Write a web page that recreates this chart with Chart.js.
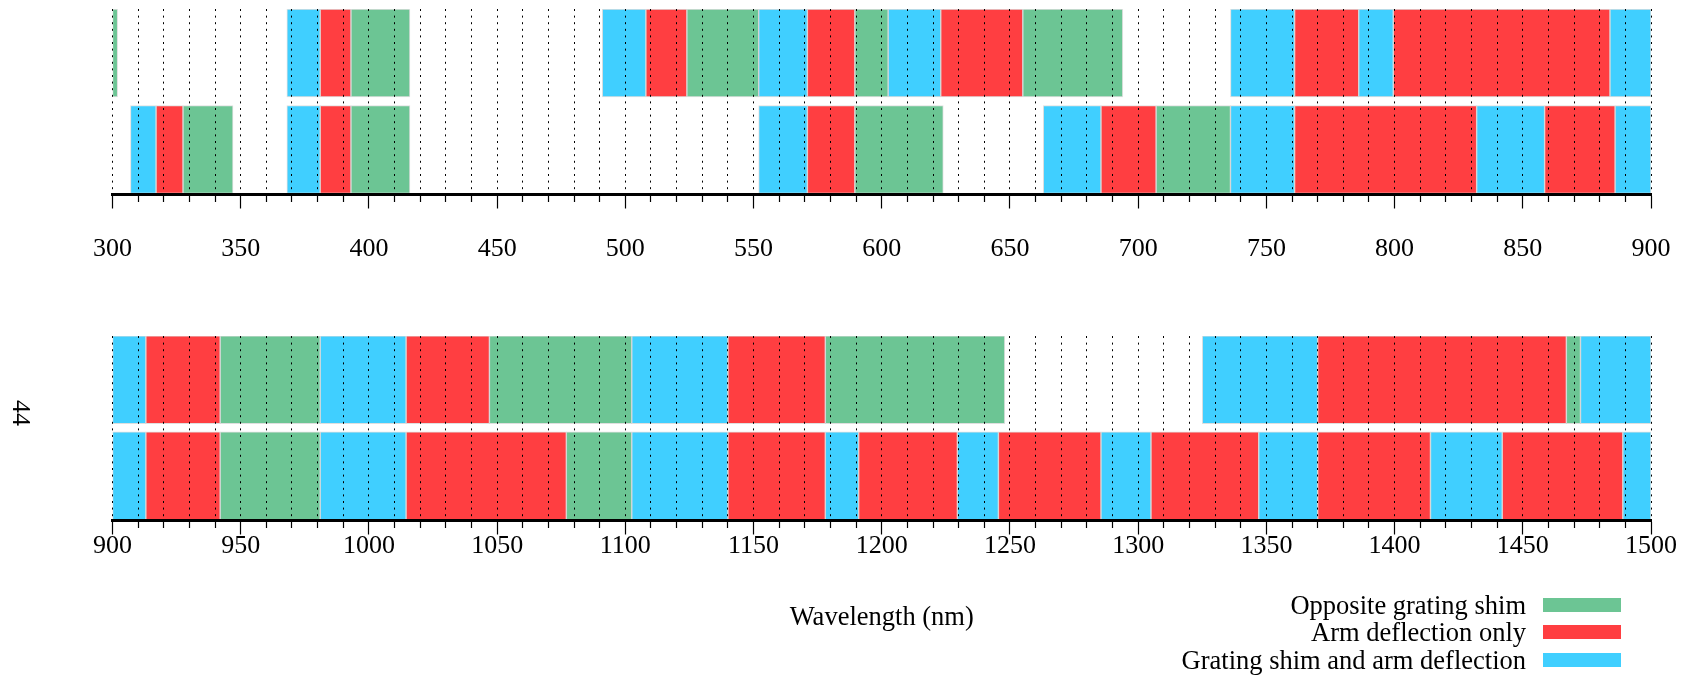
<!DOCTYPE html>
<html>
<head>
<meta charset="utf-8">
<script src="https://cdn.jsdelivr.net/npm/chart.js@4"></script>
<style>
  body { margin: 0; background: #fff; width: 1689px; height: 676px; position: relative; overflow: hidden; font-family: "Liberation Serif", serif; color: #000; }
  .panel { position: absolute; left: 0; width: 1689px; }
  #panelTop { top: 0; height: 280px; }
  #panelBottom { top: 320px; height: 320px; }
  #ylabel { position: absolute; left: 21px; top: 413px; font-size: 26px; transform: translate(-50%, -50%) rotate(90deg); }
  #legend { position: absolute; right: 68px; top: 591px; }
  .item { display: flex; align-items: center; justify-content: flex-end; height: 27.5px; font-size: 26.5px; line-height: 1; }
  .swatch { width: 78px; height: 14px; margin-left: 17px; }
</style>
</head>
<body>
<div class="panel" id="panelTop"><canvas id="chartTop"></canvas></div>
<div class="panel" id="panelBottom"><canvas id="chartBottom"></canvas></div>
<div id="ylabel">44</div>
<div id="legend"></div>
<script>
const categories = ["Opposite grating shim", "Arm deflection only", "Grating shim and arm deflection"];
const colors = ["#6cc594", "#ff3e41", "#40cfff"];

// segments: [start nm, end nm, category index]
const topUpper = [
  [300, 302, 0], [368, 381, 2], [381, 393, 1], [393, 416, 0],
  [491, 508, 2], [508, 524, 1], [524, 552, 0], [552, 571, 2], [571, 589.5, 1],
  [589.5, 602.5, 0], [602.5, 623, 2], [623, 655, 1], [655, 694, 0],
  [736, 761, 2], [761, 786, 1], [786, 799.5, 2], [799.5, 884, 1], [884, 900, 2]
];
const topLower = [
  [307, 317, 2], [317, 327.5, 1], [327.5, 347, 0],
  [368, 381, 2], [381, 393, 1], [393, 416, 0],
  [552, 571, 2], [571, 589.5, 1], [589.5, 624, 0],
  [663, 685.5, 2], [685.5, 707, 1], [707, 736, 0], [736, 761, 2], [761, 832, 1],
  [832, 858.5, 2], [858.5, 886, 1], [886, 900, 2]
];
const bottomUpper = [
  [900, 913, 2], [913, 942, 1], [942, 981, 0], [981, 1014.5, 2], [1014.5, 1047, 1],
  [1047, 1102.5, 0], [1102.5, 1140, 2], [1140, 1178, 1], [1178, 1248, 0],
  [1325, 1370, 2], [1370, 1467, 1], [1467, 1472.5, 0], [1472.5, 1500, 2]
];
const bottomLower = [
  [900, 913, 2], [913, 942, 1], [942, 981, 0], [981, 1014.5, 2], [1014.5, 1077, 1],
  [1077, 1102.5, 0], [1102.5, 1140, 2], [1140, 1178, 1], [1178, 1191, 2],
  [1191, 1229.5, 1], [1229.5, 1245.5, 2], [1245.5, 1285.5, 1], [1285.5, 1305, 2],
  [1305, 1347, 1], [1347, 1370, 2], [1370, 1414, 1], [1414, 1442, 2],
  [1442, 1489, 1], [1489, 1500, 2]
];

const topRange = [300, 900];
const bottomRange = [900, 1500];

function buildDatasets(upper, lower) {
  return categories.map((name, k) => ({
    label: name,
    backgroundColor: colors[k],
    borderColor: "rgba(150,150,150,0.3)",
    borderWidth: 1,
    borderSkipped: false,
    grouped: false,
    barThickness: 88,
    data: [lower, upper].flatMap((row, y) =>
      row.filter((s) => s[2] === k).map((s) => ({ x: [s[0], s[1]], y: y }))
    ),
  }));
}

function makeChart(id, range, upper, lower, opts) {
  return new Chart(document.getElementById(id), {
    type: "bar",
    data: { datasets: buildDatasets(upper, lower) },
    options: {
      indexAxis: "y",
      responsive: true,
      maintainAspectRatio: false,
      animation: false,
      layout: { padding: { left: 112.5, right: 38, top: opts.top, bottom: 0 } },
      plugins: { legend: { display: false }, tooltip: { enabled: false } },
      scales: {
        y: { type: "linear", display: false, offset: false, min: -0.466, max: 1.456 },
        x: {
          type: "linear",
          min: range[0],
          max: range[1],
          // fixed axis height; edge labels fit inside the layout padding
          afterFit: (s) => {
            s.height = opts.axisHeight;
            s.paddingLeft = 0;
            s.paddingRight = 0;
          },
          border: { display: true, color: "#000", width: 3, dash: [2, 4.6], z: 2 },
          grid: {
            z: 1,
            color: "#000",
            lineWidth: 1,
            tickLength: 14,
            tickColor: "#000",
            tickWidth: 1.2,
            tickBorderDash: (c) => (c.tick && c.tick.value % 50 === 0 ? [] : [6, 40]),
          },
          ticks: {
            z: 2,
            stepSize: 10,
            maxTicksLimit: 100,
            autoSkip: false,
            maxRotation: 0,
            padding: opts.pad,
            color: "#000",
            font: { family: "Liberation Serif", size: 26 },
            callback: (v) => (v % 50 === 0 ? v : ""),
          },
          title: {
            display: !!opts.title,
            text: opts.title || "",
            color: "#000",
            font: { family: "Liberation Serif", size: 26.5 },
            padding: { top: 0, bottom: 6 },
          },
        },
      },
    },
  });
}

makeChart("chartTop", topRange, topUpper, topLower, { top: 9, axisHeight: 85.5, pad: 25 });
makeChart("chartBottom", bottomRange, bottomUpper, bottomLower, { top: 16, axisHeight: 119.5, pad: -4, title: "Wavelength (nm)" });

// legend, label on the left of its colour bar
const legend = document.getElementById("legend");
categories.forEach((name, k) => {
  const item = document.createElement("div");
  item.className = "item";
  item.innerHTML = `<span>${name}</span><span class="swatch" style="background:${colors[k]}"></span>`;
  legend.appendChild(item);
});
</script>
</body>
</html>
